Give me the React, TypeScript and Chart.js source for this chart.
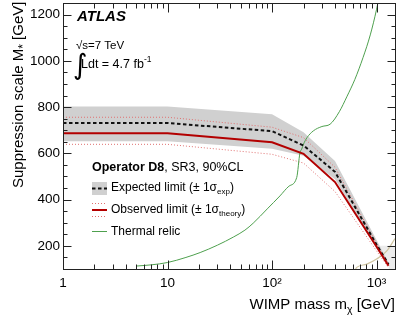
import React, { useEffect, useRef } from "react";
import { Chart, registerables } from "chart.js";

Chart.register(...registerables);

const FONT = '"Liberation Sans", Arial, Helvetica, sans-serif';

// WIMP masses at which the limits were evaluated [GeV]
const limitMass = [1, 10, 100, 200, 400, 1000, 1300];
const expectedLimit = [731, 731, 696, 634, 520, 205, 120];
const expectedUp = [803, 803, 769, 691, 567, 225, 128];
const expectedDown = [652, 652, 620, 590, 488, 190, 112];
const observedLimit = [687, 687, 648, 598, 476, 196, 114];
const theoryUp = [756, 756, 713, 668, 540, 210, 120];
const theoryDown = [639, 639, 596, 558, 435, 178, 106];

// Thermal relic curve
const relicMass = [5.1, 7, 10, 15, 20.5, 30, 42.6, 55, 66, 90, 119, 145, 172, 185, 192, 200, 216, 248, 300, 359, 440, 522, 620, 743, 870, 1000, 1060];
const relicValue = [113, 118, 128, 150, 171, 203, 238, 268, 298, 360, 416, 458, 495, 603, 618, 640, 668, 697, 716, 726, 780, 847, 920, 1015, 1112, 1223, 1280];

// Validity line (tan) and light grey region at lower right
const validityMass = [630, 646, 806, 1000, 1253, 1500];
const validityValue = [100, 107, 121, 143, 178, 232];
const regionMass = [1000, 1300, 1310, 1500];
const regionValue = [200, 113, 100, 100];

const xTickValues = [1, 10, 100, 1000];
const xTickLabels = ["1", "10", "10\u00b2", "10\u00b3"];
const yTickValues = [200, 400, 600, 800, 1000, 1200];

const GREY_BAND = "#d0d0d0";
const RED = "#b30000";
const RED_DOT = "#e07070";
const GREEN = "#4ea04e";
const TAN = "#cfc4a0";

function pts(xs: number[], ys: number[]) {
  return xs.map((x, i) => ({ x, y: ys[i] }));
}

type Part = { text: string; font: string; dy?: number };

function partsWidth(ctx: CanvasRenderingContext2D, parts: Part[]) {
  let w = 0;
  for (const p of parts) {
    ctx.font = p.font;
    w += ctx.measureText(p.text).width;
  }
  return w;
}

function drawParts(ctx: CanvasRenderingContext2D, x: number, y: number, parts: Part[]) {
  let cx = x;
  for (const p of parts) {
    ctx.font = p.font;
    ctx.fillText(p.text, cx, y + (p.dy || 0));
    cx += ctx.measureText(p.text).width;
  }
  return cx;
}

const f = (size: number, style = "") => `${style} ${size}px ${FONT}`.trim();

const decorPlugin = {
  id: "atlasDecor",
  afterDraw(chart: any) {
    const { ctx, chartArea: a } = chart;
    const xs = chart.scales.x;
    const ys = chart.scales.y;
    ctx.save();

    // frame
    const L = Math.round(a.left) + 0.5;
    const R = Math.round(a.right) + 0.5;
    const T = Math.round(a.top) + 0.5;
    const B = Math.round(a.bottom) + 0.5;
    ctx.strokeStyle = "#222";
    ctx.lineWidth = 1;
    ctx.setLineDash([]);
    ctx.strokeRect(L, T, R - L, B - T);

    // inside ticks
    ctx.beginPath();
    for (let d = 0; d <= 3; d++) {
      for (let k = 1; k <= 9; k++) {
        const v = k * Math.pow(10, d);
        if (v < 1 || v > 1500) continue;
        const px = Math.round(xs.getPixelForValue(v)) + 0.5;
        const len = k === 1 ? 9 : 5;
        ctx.moveTo(px, B);
        ctx.lineTo(px, B - len);
        ctx.moveTo(px, T);
        ctx.lineTo(px, T + len);
      }
    }
    for (let v = 100; v <= 1250; v += 50) {
      const py = Math.round(ys.getPixelForValue(v)) + 0.5;
      const len = v % 200 === 0 ? 8 : 4;
      ctx.moveTo(L, py);
      ctx.lineTo(L + len, py);
      ctx.moveTo(R, py);
      ctx.lineTo(R - len, py);
    }
    ctx.stroke();

    ctx.fillStyle = "#000";
    ctx.textAlign = "left";
    ctx.textBaseline = "alphabetic";

    // ATLAS label
    ctx.font = f(15, "italic bold");
    ctx.fillText("ATLAS", 77, 20.5);

    // sqrt(s) and luminosity
    ctx.font = f(11.5);
    ctx.fillText("\u221As=7 TeV", 76, 49);
    ctx.font = `28px "DejaVu Sans"`;
    ctx.fillText("\u222B", 73, 74);
    const endL = drawParts(ctx, 81, 68, [{ text: "Ldt = 4.7 fb", font: f(12.5) }]);
    drawParts(ctx, endL, 62, [{ text: "-1", font: f(8.5) }]);

    // Legend
    drawParts(ctx, 92, 170.5, [
      { text: "Operator D8", font: f(12.5, "bold") },
      { text: ", SR3, 90%CL", font: f(12.5) },
    ]);
    // expected symbol
    ctx.fillStyle = GREY_BAND;
    ctx.fillRect(92, 182, 15, 13);
    ctx.strokeStyle = "#111";
    ctx.lineWidth = 2;
    ctx.setLineDash([3.5, 2.5]);
    ctx.beginPath();
    ctx.moveTo(92, 188.5);
    ctx.lineTo(107, 188.5);
    ctx.stroke();
    // observed symbol
    ctx.strokeStyle = RED_DOT;
    ctx.lineWidth = 1;
    ctx.setLineDash([1, 2]);
    ctx.beginPath();
    ctx.moveTo(92, 203.5);
    ctx.lineTo(107, 203.5);
    ctx.moveTo(92, 216.5);
    ctx.lineTo(107, 216.5);
    ctx.stroke();
    ctx.setLineDash([]);
    ctx.strokeStyle = RED;
    ctx.lineWidth = 2;
    ctx.beginPath();
    ctx.moveTo(92, 210);
    ctx.lineTo(107, 210);
    ctx.stroke();
    // thermal relic symbol
    ctx.strokeStyle = GREEN;
    ctx.lineWidth = 1;
    ctx.beginPath();
    ctx.moveTo(92, 231.5);
    ctx.lineTo(107, 231.5);
    ctx.stroke();

    ctx.fillStyle = "#000";
    drawParts(ctx, 111, 191, [
      { text: "Expected limit (\u00b1 1\u03c3", font: f(12) },
      { text: "exp", font: f(8), dy: 3 },
      { text: ")", font: f(12) },
    ]);
    drawParts(ctx, 111, 212.5, [
      { text: "Observed limit (\u00b1 1\u03c3", font: f(12) },
      { text: "theory", font: f(8), dy: 3 },
      { text: ")", font: f(12) },
    ]);
    drawParts(ctx, 111, 235, [{ text: "Thermal relic", font: f(12) }]);

    // x axis title
    const xParts: Part[] = [
      { text: "WIMP mass m", font: f(15) },
      { text: "\u03c7", font: f(10.5), dy: 3.5 },
      { text: " [GeV]", font: f(15) },
    ];
    const xw = partsWidth(ctx, xParts);
    drawParts(ctx, 395 - xw, 309, xParts);

    // y axis title (rotated)
    ctx.save();
    ctx.translate(23, 188);
    ctx.rotate(-Math.PI / 2);
    drawParts(ctx, 0, 0, [
      { text: "Suppression scale M", font: f(15) },
      { text: "*", font: f(12), dy: 4 },
      { text: " [GeV]", font: f(15) },
    ]);
    ctx.restore();

    ctx.restore();
  },
};

export default function App() {
  const ref = useRef<HTMLCanvasElement | null>(null);

  useEffect(() => {
    if (!ref.current) return;
    Chart.defaults.font.family = FONT;
    const clear = "rgba(0,0,0,0)";
    const chart = new Chart(ref.current, {
      type: "line",
      data: {
        datasets: [
          {
            label: "Excluded region",
            data: pts(regionMass, regionValue),
            borderColor: clear,
            borderWidth: 1,
            backgroundColor: "#ececec",
            fill: { value: 200 },
            pointRadius: 0,
            order: 10,
          },
          {
            label: "Expected +1 sigma",
            data: pts(limitMass, expectedUp),
            borderColor: clear,
            borderWidth: 1,
            backgroundColor: GREY_BAND,
            fill: "+1",
            pointRadius: 0,
            order: 9,
          },
          {
            label: "Expected -1 sigma",
            data: pts(limitMass, expectedDown),
            borderColor: clear,
            borderWidth: 1,
            fill: false,
            pointRadius: 0,
            order: 9,
          },
          {
            label: "Validity",
            data: pts(validityMass, validityValue),
            borderColor: TAN,
            borderWidth: 1.2,
            fill: false,
            pointRadius: 0,
            cubicInterpolationMode: "monotone",
            order: 8,
          },
          {
            label: "Theory +1 sigma",
            data: pts(limitMass, theoryUp),
            borderColor: RED_DOT,
            borderWidth: 1,
            borderDash: [1, 2],
            fill: false,
            pointRadius: 0,
            order: 5,
          },
          {
            label: "Theory -1 sigma",
            data: pts(limitMass, theoryDown),
            borderColor: RED_DOT,
            borderWidth: 1,
            borderDash: [1, 2],
            fill: false,
            pointRadius: 0,
            order: 5,
          },
          {
            label: "Thermal relic",
            data: pts(relicMass, relicValue),
            borderColor: GREEN,
            borderWidth: 1,
            fill: false,
            pointRadius: 0,
            cubicInterpolationMode: "monotone",
            order: 4,
          },
          {
            label: "Expected limit",
            data: pts(limitMass, expectedLimit),
            borderColor: "#111",
            borderWidth: 2,
            borderDash: [3.5, 2.5],
            fill: false,
            pointRadius: 0,
            order: 2,
          },
          {
            label: "Observed limit",
            data: pts(limitMass, observedLimit),
            borderColor: RED,
            borderWidth: 2,
            fill: false,
            pointRadius: 0,
            order: 1,
          },
        ],
      },
      options: {
        animation: false,
        responsive: false,
        devicePixelRatio: 1,
        layout: { padding: { top: 3, right: 4, left: 0, bottom: 0 } },
        plugins: {
          legend: { display: false },
          tooltip: { enabled: false },
        },
        elements: { point: { radius: 0 }, line: { tension: 0 } },
        scales: {
          x: {
            type: "logarithmic",
            min: 1,
            max: 1500,
            grid: { display: false, drawTicks: false },
            border: { display: false },
            afterBuildTicks: (s: any) => {
              s.ticks = xTickValues.map((v) => ({ value: v, major: true }));
            },
            afterFit: (s: any) => {
              s.height = 52;
              s.paddingLeft = 0;
              s.paddingRight = 0;
            },
            ticks: {
              autoSkip: false,
              maxRotation: 0,
              minRotation: 0,
              padding: 6,
              color: "#000",
              font: { family: FONT, size: 13.5 },
              callback: (_v: any, i: number) => xTickLabels[i],
            },
          },
          y: {
            type: "linear",
            min: 100,
            max: 1250,
            grid: { display: false, drawTicks: false },
            border: { display: false },
            afterBuildTicks: (s: any) => {
              s.ticks = yTickValues.map((v) => ({ value: v }));
            },
            afterFit: (s: any) => {
              s.width = 63;
              s.paddingTop = 0;
              s.paddingBottom = 0;
            },
            ticks: {
              padding: 3,
              color: "#000",
              font: { family: FONT, size: 13.5 },
              callback: (v: any) => String(v),
            },
          },
        },
      } as any,
      plugins: [decorPlugin],
    });
    return () => chart.destroy();
  }, []);

  return (
    <div>
      <canvas
        ref={ref}
        width={399}
        height={321}
        style={{ position: "fixed", left: 0, top: 0, width: "399px", height: "321px" }}
      />
    </div>
  );
}
